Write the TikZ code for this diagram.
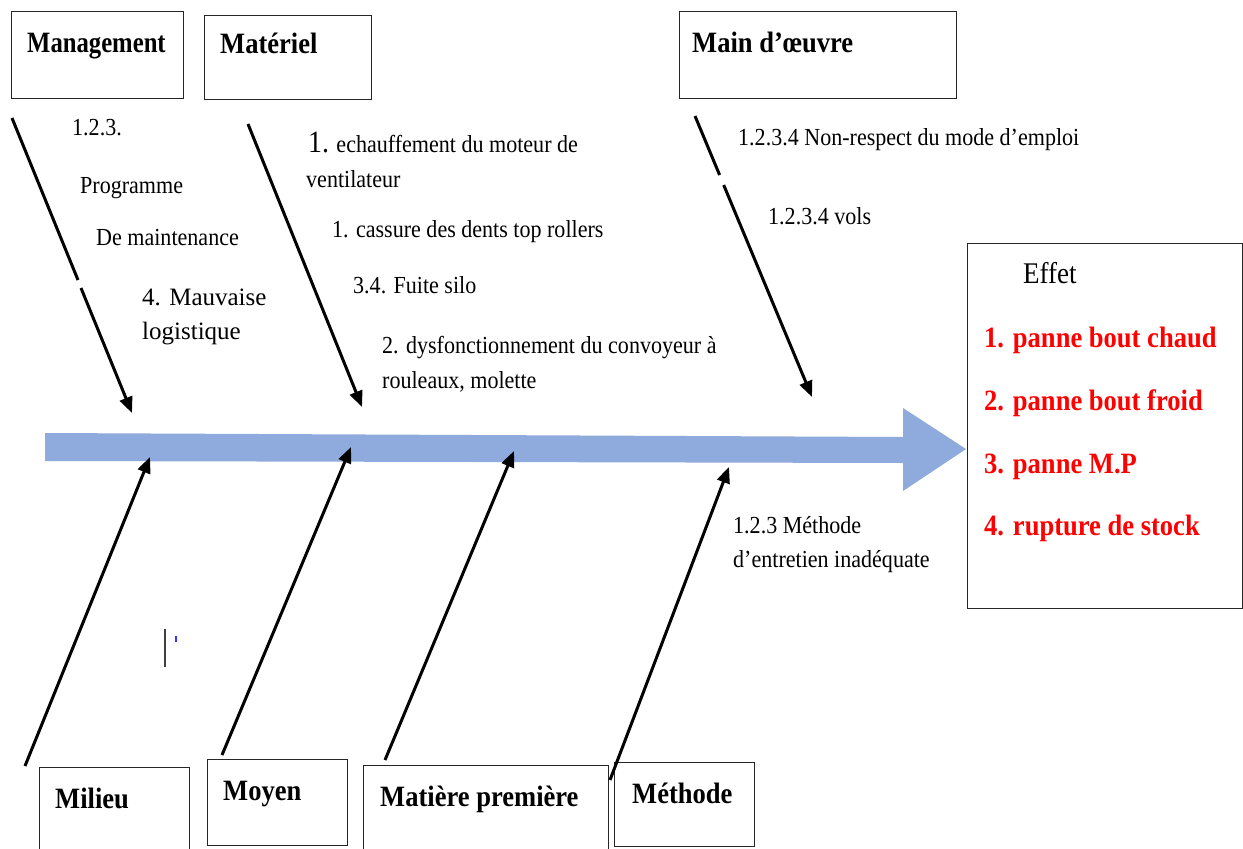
\documentclass[tikz,border=0pt]{standalone}
\usepackage{fontspec}
\setmainfont{Liberation Serif}[FakeStretch=0.9]
\newfontfamily\widefont{Liberation Serif}
\usetikzlibrary{arrows.meta}
\definecolor{spine}{RGB}{143,170,220}
\definecolor{effred}{RGB}{255,0,0}
\newcommand{\titlefont}{\bfseries\fontsize{29.5}{35}\selectfont}
\newcommand{\causefont}{\fontsize{24.5}{29}\selectfont}
\tikzset{
  catbox/.style={draw=black!85, line width=1.4pt, inner sep=0pt, anchor=north west},
  cattitle/.style={anchor=base west, inner sep=0pt, font=\titlefont},
  cause/.style={anchor=base west, inner sep=0pt, font=\causefont},
  effitem/.style={anchor=base west, inner sep=0pt, font=\titlefont, text=effred},
  bone/.style={line width=3pt, draw=black},
  bonetip/.style={bone, -{Triangle[length=16pt,width=13pt]}},
}
\begin{document}
\begin{tikzpicture}[x=1pt,y=-1pt]
\clip (0,0) rectangle (1243,849);
\fill[white] (0,0) rectangle (1243,849);

% main spine of the fishbone
\fill[spine] (45,433) -- (903,437) -- (903,408) -- (966,449) -- (903,491) -- (903,463) -- (45,461) -- cycle;

% category boxes, top row
\node[catbox, minimum width=172pt, minimum height=87pt] (mgmt) at (11,11) {};
\node[catbox, minimum width=167pt, minimum height=84pt] (mat) at (204,15) {};
\node[catbox, minimum width=277pt, minimum height=87pt] (mo) at (679,11) {};
\node[cattitle] (mgmtT) at (27,52) {\scalebox{0.93}[1]{Management}};
\node[cattitle] (matT) at (220,53) {Matériel};
\node[cattitle] (moT) at (692,52) {Main d’œuvre};

% category boxes, bottom row
\node[catbox, minimum width=150pt, minimum height=95pt] (mil) at (39,767) {};
\node[catbox, minimum width=140pt, minimum height=86pt] (moy) at (207,759) {};
\node[catbox, minimum width=245pt, minimum height=95pt] (mp) at (363,765) {};
\node[catbox, minimum width=140pt, minimum height=84pt] (meth) at (614,762) {};
\node[cattitle] (milT) at (55,808) {Milieu};
\node[cattitle] (moyT) at (223,800) {Moyen};
\node[cattitle] (mpT) at (380,806) {Matière première};
\node[cattitle] (methT) at (632,803) {Méthode};

% effect box
\node[catbox, minimum width=275pt, minimum height=365pt] (eff) at (967,243) {};
\node[anchor=base west, inner sep=0pt, font=\fontsize{30}{36}\selectfont] (effT) at (1023,283) {Effet};
\node[effitem] (e1) at (984,347) {1. panne bout chaud};
\node[effitem] (e2) at (984,410) {2. panne bout froid};
\node[effitem] (e3) at (984,473) {3. panne M.P};
\node[effitem] (e4) at (984,535) {4. rupture de stock};

% bone end points
\coordinate (mgA) at (12,118);   \coordinate (mgB) at (78,280);
\coordinate (mgC) at (81,288);   \coordinate (mgD) at (132,413);
\coordinate (maA) at (248,124);  \coordinate (maD) at (362,407);
\coordinate (moA) at (695,116);  \coordinate (moB) at (719.6,175);
\coordinate (moC) at (723.7,185); \coordinate (moD) at (812,397);
\coordinate (miA) at (25,766);   \coordinate (miD) at (150,457);
\coordinate (myA) at (222,755);  \coordinate (myD) at (351,447);
\coordinate (mpA) at (385,760);  \coordinate (mpD) at (514,451);
\coordinate (meA) at (610,780);  \coordinate (meD) at (729,467);

% upper bones
\draw[bone] (mgA) -- (mgB);
\draw[bonetip] (mgC) -- (mgD);
\draw[bonetip] (maA) -- (maD);
\draw[bone] (moA) -- (moB);
\draw[bonetip] (moC) -- (moD);

% lower bones
\draw[bonetip] (miA) -- (miD);
\draw[bonetip] (myA) -- (myD);
\draw[bonetip] (mpA) -- (mpD);
\draw[bonetip] (meA) -- (meD);

% causes: Management
\node[cause] (c1) at (72,135) {1.2.3.};
\node[cause] (c2) at (80,193) {Programme};
\node[cause] (c3) at (96,245) {De maintenance};
\node[anchor=base west, inner sep=0pt, font=\widefont\fontsize{25}{30}\selectfont] (c4) at (142,305) {4. Mauvaise};
\node[anchor=base west, inner sep=0pt, font=\widefont\fontsize{25}{30}\selectfont] (c5) at (142,339) {logistique};

% causes: Matériel
\node[cause] (c6) at (308,152) {{\fontsize{31}{36}\selectfont 1.} echauffement du moteur de};
\node[cause] (c7) at (306,187) {ventilateur};
\node[cause] (c8) at (332,237) {1. cassure des dents top rollers};
\node[cause] (c9) at (353,293) {3.4. Fuite silo};
\node[cause] (c10) at (382,353) {2. dysfonctionnement du convoyeur à};
\node[cause] (c11) at (382,388) {rouleaux, molette};

% causes: Main d'oeuvre
\node[cause] (c12) at (738,145) {1.2.3.4 Non-respect du mode d’emploi};
\node[cause] (c13) at (768,224) {1.2.3.4 vols};

% causes: Méthode
\node[cause] (c14) at (733,533) {1.2.3 Méthode};
\node[cause] (c15) at (733,567) {d’entretien inadéquate};

% small cursor mark
\coordinate (kA) at (165,629); \coordinate (kB) at (165,667);
\draw[black!75, line width=1.3pt] (kA) -- (kB);
\fill[blue!80] (175.2,636) rectangle (176.8,642);
\end{tikzpicture}
\end{document}
